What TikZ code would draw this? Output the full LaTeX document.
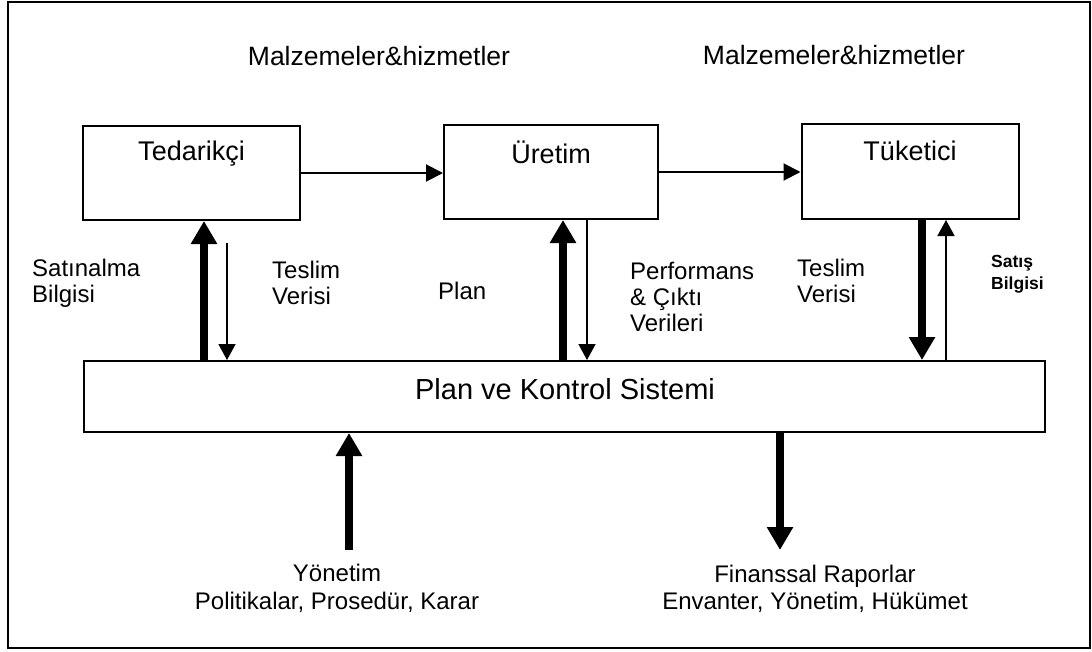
\documentclass[tikz,border=0pt]{standalone}
\usepackage{fontspec}
\setmainfont{Liberation Sans}
\usetikzlibrary{arrows.meta,calc}
\begin{document}
\begin{tikzpicture}[x=1pt,y=-1pt,
  box/.style={draw,line width=2pt,inner sep=0pt},
  boxtext/.style={font=\fontsize{27}{30}\selectfont,inner sep=0pt},
  sidetext/.style={font=\fontsize{24}{26}\selectfont,align=left,anchor=west,inner sep=0pt},
  bottomtext/.style={font=\fontsize{24}{28}\selectfont,align=center,inner sep=0pt},
  heavyarrow/.style={line width=8pt,-{Triangle[width=25pt,length=23pt]}},
  thinarrow/.style={line width=1.6pt,-{Triangle[width=17pt,length=16pt]}},
  flowarrow/.style={line width=2pt,-{Triangle[width=17pt,length=17pt]}}]
  % page and outer frame
  \useasboundingbox (0,0) rectangle (1092,651);
  \draw[line width=2pt] (8,2) rectangle (1090,648);

  % flow headings
  \node[boxtext,font=\fontsize{26.5}{30}\selectfont] (mh1) at (379,56) {Malzemeler\&hizmetler};
  \node[boxtext,font=\fontsize{26.5}{30}\selectfont] (mh2) at (834,55) {Malzemeler\&hizmetler};

  % main boxes
  \node[box,minimum width=217pt,minimum height=94pt] (ted) at (191.5,173) {};
  \node[box,minimum width=214pt,minimum height=94pt] (ure) at (551,172) {};
  \node[box,minimum width=217pt,minimum height=95pt] (tuk) at (910,171.5) {};
  \node[boxtext] (tedl) at ($(ted.north)+(0,29)$) {Tedarikçi};
  \node[boxtext] (urel) at ($(ure.north)+(0,28)$) {Üretim};
  \node[boxtext] (tukl) at ($(tuk.north)+(0,28)$) {Tüketici};

  % planning and control system
  \node[box,minimum width=961pt,minimum height=71pt] (pks) at (564.5,396.5) {};
  \node[boxtext,font=\fontsize{29}{32}\selectfont] (pksl) at (565,389) {Plan ve Kontrol Sistemi};

  % material flow
  \draw[flowarrow] (ted.east) -- (ted.east -| ure.west);
  \draw[flowarrow] (ure.east) -- (ure.east -| tuk.west);

  % information flows between boxes and the system
  \coordinate (x1) at (204,0);
  \coordinate (x2) at (227,243);
  \coordinate (x3) at (563,0);
  \coordinate (x4) at (587,0);
  \coordinate (x5) at (922,0);
  \coordinate (x6) at (946,0);
  \draw[heavyarrow] (pks.north -| x1) -- (ted.south -| x1);
  \draw[thinarrow] (x2) -- (pks.north -| x2);
  \draw[heavyarrow] (pks.north -| x3) -- (ure.south -| x3);
  \draw[thinarrow] (ure.south -| x4) -- (pks.north -| x4);
  \draw[heavyarrow] (tuk.south -| x5) -- (pks.north -| x5);
  \draw[thinarrow] (pks.north -| x6) -- (tuk.south -| x6);

  % flow labels
  \node[sidetext] (l1) at (32,283) {Satınalma\\Bilgisi};
  \node[sidetext] (l2) at (272,283) {Teslim\\Verisi};
  \node[sidetext] (l3) at (438,291) {Plan};
  \node[sidetext] (l4) at (630,297) {Performans\\\& Çıktı\\Verileri};
  \node[sidetext] (l5) at (797,281) {Teslim\\Verisi};
  \node[sidetext,font=\fontsize{17.5}{22}\selectfont\bfseries] (l6) at (991,274) {Satış\\Bilgisi};

  % inputs and outputs of the system
  \coordinate (yon) at (349,550);
  \coordinate (fin) at (780,550);
  \draw[heavyarrow] (yon) -- (pks.south -| yon);
  \draw[heavyarrow] (pks.south -| fin) -- (fin);
  \node[bottomtext] (yonl) at (337,588) {Yönetim\\Politikalar, Prosedür, Karar};
  \node[bottomtext,font=\fontsize{24}{26.5}\selectfont] (finl) at (815,589) {Finanssal Raporlar\\Envanter, Yönetim, Hükümet};
\end{tikzpicture}
\end{document}
